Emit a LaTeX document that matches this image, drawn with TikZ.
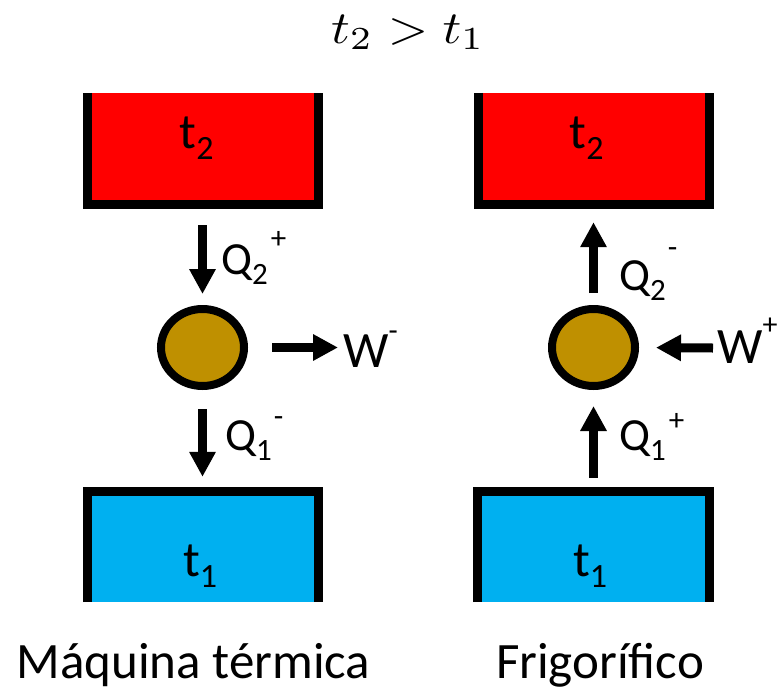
\documentclass[tikz,border=0pt]{standalone}
\usepackage{fontspec}
\setmainfont{Carlito}
\usetikzlibrary{arrows.meta,shapes.geometric}
\definecolor{hotred}{HTML}{FF0000}
\definecolor{coldblue}{HTML}{00B0F0}
\definecolor{enginecol}{HTML}{BF9000}
\newcommand\fs[1]{\fontsize{#1}{#1}\selectfont}
\newcommand\qlab[4]{Q\raisebox{-10pt}{\fs{31}#1}\hspace{#4}\raisebox{#3}{\fs{31}#2}}
\begin{document}
\begin{tikzpicture}[x=1pt,y=-1pt,
  reservoir/.style={rectangle, inner sep=0pt, minimum width=240pt, minimum height=116pt},
  wall/.style={line width=9pt, line join=miter, line cap=butt},
  engine/.style={ellipse, draw=black, fill=enginecol, line width=8pt, minimum width=83pt, minimum height=77pt, inner sep=0pt},
  flow/.style={line width=9pt, -{Triangle[length=25pt,width=25pt]}},
  lab/.style={anchor=base west, inner sep=0pt, font=\fs{46}},
  wlab/.style={anchor=base west, inner sep=0pt, font=\fs{51}},
  boxtext/.style={anchor=base, inner sep=0pt, font=\fs{50}},
  caption/.style={anchor=base, inner sep=0pt, font=\fs{51}}]
\useasboundingbox (0,0) rectangle (779,691);
\fill[white] (0,0) rectangle (779,691);

% title
\node[anchor=base, inner sep=0pt] (title) at (408,43) {\scalebox{5.2}[4.6]{$t_2 > t_1$}};

% reservoirs
\node[reservoir, fill=hotred] (hotA) at (203,151) {};
\node[reservoir, fill=hotred] (hotB) at (594,151) {};
\node[reservoir, fill=coldblue, minimum height=115pt] (coldA) at (203,544.5) {};
\node[reservoir, fill=coldblue, minimum height=115pt] (coldB) at (593.5,544.5) {};

% walls (hot: open at top, cold: open at bottom)
\foreach \b in {hotA,hotB}{
  \draw[wall] ([xshift=4.5pt]\b.north west) -- ([xshift=4.5pt,yshift=4.5pt]\b.south west)
    -- ([xshift=-4.5pt,yshift=4.5pt]\b.south east) -- ([xshift=-4.5pt]\b.north east);
}
\foreach \b in {coldA,coldB}{
  \draw[wall] ([xshift=4.5pt]\b.south west) -- ([xshift=4.5pt,yshift=-4.5pt]\b.north west)
    -- ([xshift=-4.5pt,yshift=-4.5pt]\b.north east) -- ([xshift=-4.5pt]\b.south east);
}

% texts in reservoirs
\node[boxtext] (tA2) at (196.5,148) {t\raisebox{-11pt}{\fs{34}2}};
\node[boxtext] (tB2) at (586.5,148) {t\raisebox{-11pt}{\fs{34}2}};
\node[boxtext] (tA1) at (200,576) {t\raisebox{-11pt}{\fs{34}1}};
\node[boxtext] (tB1) at (590,576) {t\raisebox{-11pt}{\fs{34}1}};

% engines
\node[engine] (engA) at (202.5,347.5) {};
\node[engine] (engB) at (593.5,347.5) {};

\coordinate (wA) at (338,347.5);
\coordinate (wB) at (713,348);

% heat engine flows
\draw[flow, shorten <=16pt, shorten >=11pt] (hotA.south -| engA.center) -- (engA.north);
\draw[flow, shorten <=19pt, shorten >=10pt] (engA.south) -- (coldA.north -| engA.center);
\draw[flow, shorten <=24pt] (engA.east) -- (wA);

% refrigerator flows
\draw[flow, shorten <=12pt, shorten >=13pt] (engB.north) -- (hotB.south -| engB.center);
\draw[flow, shorten <=9pt, shorten >=16pt] (coldB.north -| engB.center) -- (engB.south);
\draw[flow, shorten >=17pt] (wB) -- (engB.east);

% labels
\node[lab] (q2A) at (221,274) {\qlab{2}{+}{26pt}{3pt}};
\node[lab] (q1A) at (225,450) {\qlab{1}{-}{24pt}{2pt}};
\node[lab] (q2B) at (619,290) {\qlab{2}{-}{33pt}{2pt}};
\node[lab] (q1B) at (619,450) {\qlab{1}{+}{20pt}{3pt}};
\node[wlab] (wlA) at (343,367) {W\raisebox{27pt}{\fs{30}-}};
\node[wlab] (wlB) at (717,363) {W\raisebox{29pt}{\fs{30}+}};

% captions
\node[caption] (capA) at (193.5,678) {Máquina térmica};
\node[caption] (capB) at (600,678) {Frigorífico};
\end{tikzpicture}
\end{document}
